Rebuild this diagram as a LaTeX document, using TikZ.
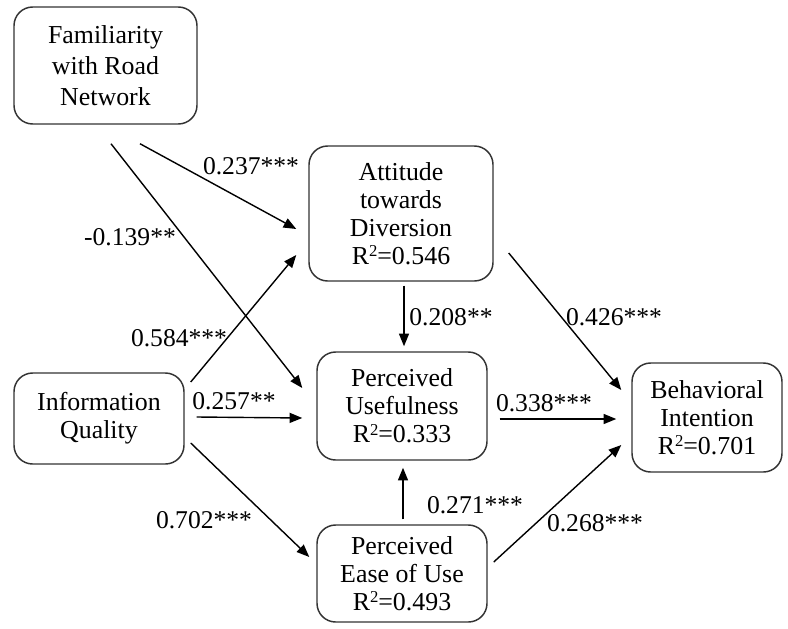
\documentclass[tikz,border=0pt]{standalone}
\usepackage{fontspec}
\setmainfont{Liberation Serif}
\usetikzlibrary{arrows.meta}
\newcommand{\rsq}{R\raisebox{0.3em}{\fontsize{12.5}{12.5}\selectfont 2}}
\begin{document}
\begin{tikzpicture}[x=0.75pt,y=-0.75pt,
  box/.style={draw=black!80, line width=1.1pt, rounded corners=14pt, align=center, inner sep=0pt,
    font=\fontsize{19.4}{21}\selectfont},
  arr/.style={draw=black, line width=1.05pt, -{Triangle[length=9.5pt,width=7.5pt]}},
  lbl/.style={inner sep=0pt, font=\fontsize{19.2}{20.6}\selectfont}]
\path[use as bounding box] (0,0) rectangle (788,628);

\node[box, minimum width=137.25pt, minimum height=87.75pt, font=\fontsize{19.4}{23.2}\selectfont] (fam) at (105.5,65.5) {Familiarity\\with Road\\Network};
\node[box, minimum width=138pt, minimum height=101.25pt] (att) at (401,213.5) {Attitude\\towards\\Diversion\\\rsq=0.546};
\node[box, minimum width=127.5pt, minimum height=68.25pt] (iq) at (99,418.5) {Information\\Quality};
\node[box, minimum width=127.5pt, minimum height=81pt] (pu) at (402,406) {Perceived\\Usefulness\\\rsq=0.333};
\node[box, minimum width=112.5pt, minimum height=81.75pt] (bi) at (707,417.5) {Behavioral\\Intention\\\rsq=0.701};
\node[box, minimum width=127.5pt, minimum height=72.75pt] (peou) at (402,573.5) {Perceived\\Ease of Use\\\rsq=0.493};

\draw[arr] ([shift={(34.5,19)}]fam.south) -- ([shift={(-12,15.5)}]att.west);
\draw[arr] ([shift={(5.5,19)}]fam.south) -- ([shift={(-14,-18)}]pu.west);
\draw[arr] ([shift={(6,-36.5)}]iq.east) -- ([shift={(-12,41.5)}]att.west);
\draw[arr] ([shift={(12,-1.5)}]iq.east) -- ([shift={(-14,12)}]pu.west);
\draw[arr] ([shift={(6,24.5)}]iq.east) -- ([shift={(-7,-16.5)}]peou.west);
\draw[arr] ([shift={(3,4)}]att.south) -- ([shift={(2,-5)}]pu.north);
\draw[arr] ([shift={(1,-5)}]peou.north) -- ([shift={(1,7)}]pu.south);
\draw[arr] ([shift={(15,39.5)}]att.east) -- ([shift={(-10,-27.5)}]bi.west);
\draw[arr] ([shift={(12,13)}]pu.east) -- ([shift={(-15,1.5)}]bi.west);
\draw[arr] ([shift={(6,-11.5)}]peou.east) -- ([shift={(-10,27.5)}]bi.west);

\node[lbl] (l237) at (251,166) {0.237***};
\node[lbl] (l139) at (130,237) {-0.139**};
\node[lbl] (l584) at (179,338) {0.584***};
\node[lbl] (l257) at (234,401) {0.257**};
\node[lbl] (l702) at (204,520) {0.702***};
\node[lbl] (l208) at (451,317) {0.208**};
\node[lbl] (l426) at (614,317) {0.426***};
\node[lbl] (l338) at (544,403) {0.338***};
\node[lbl] (l271) at (475,505) {0.271***};
\node[lbl] (l268) at (595,523) {0.268***};
\end{tikzpicture}
\end{document}
